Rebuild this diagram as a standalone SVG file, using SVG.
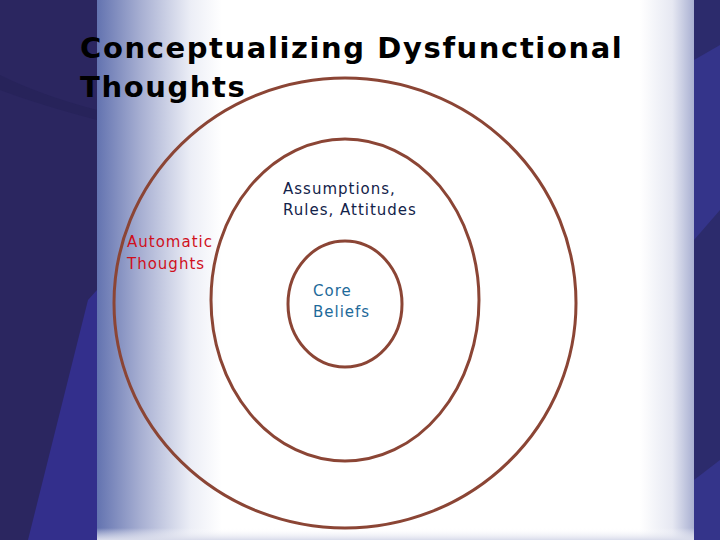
<svg xmlns="http://www.w3.org/2000/svg" width="720" height="540" viewBox="0 0 720 540">
<defs>
<linearGradient id="lg" x1="0" y1="0" x2="1" y2="0">
<stop offset="0" stop-color="#6373b0"/>
<stop offset="0.35" stop-color="#a7afd2"/>
<stop offset="0.75" stop-color="#eceef6"/>
<stop offset="1" stop-color="#ffffff"/>
</linearGradient>
<linearGradient id="rg" x1="0" y1="0" x2="1" y2="0">
<stop offset="0" stop-color="#ffffff"/>
<stop offset="0.6" stop-color="#e6e8f2"/>
<stop offset="1" stop-color="#a9b0d2"/>
</linearGradient>
<linearGradient id="bg" x1="0" y1="0" x2="0" y2="1">
<stop offset="0" stop-color="#ffffff" stop-opacity="0"/>
<stop offset="1" stop-color="#d8dbea"/>
</linearGradient>
<style>
.ring{fill:none;stroke:#8b4535;stroke-width:3}
.lbl{font-family:"DejaVu Sans",Verdana,sans-serif;font-size:15px;letter-spacing:1px}
.title{font-family:"DejaVu Sans",Verdana,sans-serif;font-size:29px;font-weight:bold;fill:#000;letter-spacing:1.6px}
</style>
</defs>
<rect x="0" y="0" width="720" height="540" fill="#ffffff"/>
<!-- left panel -->
<rect x="0" y="0" width="97" height="540" fill="#2b2660"/>
<polygon points="88,300 97,290 97,540 28,540" fill="#332f8c"/>
<path d="M0,75 Q40,95 97,110 L97,120 Q40,105 0,90 Z" fill="#27235a"/>
<rect x="97" y="0" width="125" height="540" fill="url(#lg)"/>
<!-- right panel -->
<rect x="640" y="0" width="54" height="540" fill="url(#rg)"/>
<rect x="694" y="0" width="26" height="540" fill="#2c2b6c"/>
<polygon points="694,60 720,45 720,210 694,240" fill="#34348a"/>
<polygon points="694,480 720,460 720,540 694,540" fill="#34348a"/>
<rect x="97" y="528" width="597" height="12" fill="url(#bg)"/>
<text class="title" x="80" y="58">Conceptualizing Dysfunctional</text>
<text class="title" x="80" y="97">Thoughts</text>
<g id="connectors"></g>
<g id="outer">
<ellipse class="ring" cx="345" cy="303" rx="231" ry="225"/>
<text class="lbl" fill="#d0101c" x="127" y="247">Automatic</text>
<text class="lbl" fill="#d0101c" x="127" y="269">Thoughts</text>
</g>
<g id="middle">
<ellipse class="ring" cx="345" cy="300" rx="134" ry="161"/>
<text class="lbl" fill="#13234a" x="283" y="194">Assumptions,</text>
<text class="lbl" fill="#13234a" x="283" y="215">Rules, Attitudes</text>
</g>
<g id="inner">
<ellipse class="ring" cx="345" cy="304" rx="57" ry="63"/>
<text class="lbl" fill="#1e6a9a" x="313" y="296">Core</text>
<text class="lbl" fill="#1e6a9a" x="313" y="317">Beliefs</text>
</g>
</svg>
